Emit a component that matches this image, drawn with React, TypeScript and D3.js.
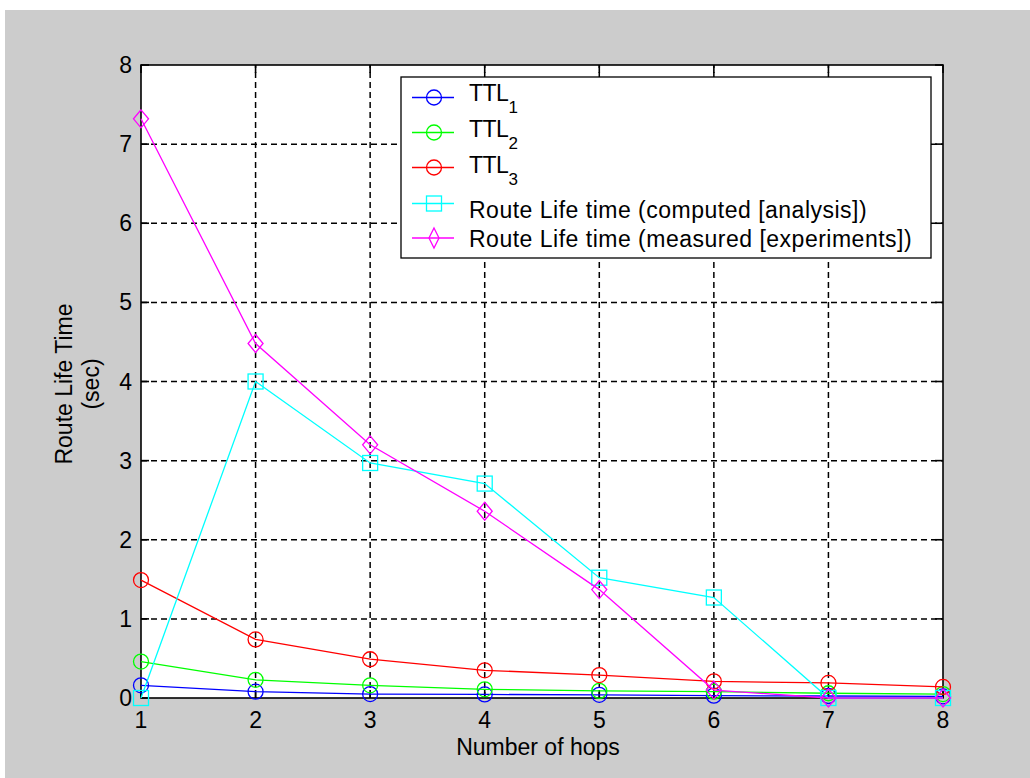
import React from 'react';
import * as d3 from 'd3';

// hop counts on the x axis
const hops = [1, 2, 3, 4, 5, 6, 7, 8];

// series values (seconds)
const ttl1 = [0.16, 0.08, 0.05, 0.045, 0.04, 0.03, 0.025, 0.02];
const ttl2 = [0.46, 0.23, 0.16, 0.11, 0.09, 0.08, 0.06, 0.05];
const ttl3 = [1.49, 0.74, 0.49, 0.35, 0.29, 0.21, 0.19, 0.14];
const computed = [0, 4.0, 2.97, 2.71, 1.52, 1.27, 0, 0];
const measured = [7.32, 4.48, 3.2, 2.36, 1.37, 0.1, 0, 0];

const xTicks = [1, 2, 3, 4, 5, 6, 7, 8];
const yTicks = [0, 1, 2, 3, 4, 5, 6, 7, 8];

const series = [
    {name: 'TTL', sub: '1', values: ttl1, color: '#0000ff', marker: 'circle'},
    {name: 'TTL', sub: '2', values: ttl2, color: '#00ff00', marker: 'circle'},
    {name: 'TTL', sub: '3', values: ttl3, color: '#ff0000', marker: 'circle'},
    {name: 'Route Life time (computed [analysis])', sub: '', values: computed, color: '#00ffff', marker: 'square'},
    {name: 'Route Life time (measured [experiments])', sub: '', values: measured, color: '#ff00ff', marker: 'diamond'},
];

const font = '"Liberation Sans", Arial, sans-serif';

function Marker({type, cx, cy, color, legend}: {type: string; cx: number; cy: number; color: string; legend?: boolean}) {
    if (type === 'circle') {
        return <circle cx={cx} cy={cy} r={7.5} fill="none" stroke={color} strokeWidth={1.3} />;
    }
    if (type === 'square') {
        return <rect x={cx - 7.5} y={cy - 7.5} width={15} height={15} fill="none" stroke={color} strokeWidth={1.3} />;
    }
    const hw = legend ? 5 : 7.5;
    const hh = legend ? 10 : 9;
    return (
        <path
            d={`M${cx},${cy - hh}L${cx + hw},${cy}L${cx},${cy + hh}L${cx - hw},${cy}Z`}
            fill="none"
            stroke={color}
            strokeWidth={1.3}
        />
    );
}

export default function App() {
    const x = d3.scaleLinear().domain([1, 8]).range([141, 943]);
    const y = d3.scaleLinear().domain([0, 8]).range([698, 65]);

    const [x0, x1] = x.range();
    const [y0, y1] = y.range();

    const line = d3.line<number>()
        .x((d, i) => x(hops[i]))
        .y((d) => y(d));

    // legend layout
    const legX = 401, legY = 77, legW = 530, legH = 181;
    const rowY = [97.5, 132.5, 167.5, 203.5, 238];
    const textY = [101, 137, 173, 218, 247];

    return (
        <svg width={1030} height={778} style={{position: 'absolute', left: 0, top: 0}} fontFamily={font}>
            <rect x={0} y={0} width={1030} height={778} fill="#ffffff" />
            <rect x={5} y={10} width={1025} height={768} fill="#cccccc" />
            <rect x={x0} y={y1} width={x1 - x0} height={y0 - y1} fill="#ffffff" />

            {/* grid */}
            <g stroke="#000" strokeWidth={1.5} strokeDasharray="6,4">
                {xTicks.slice(1, -1).map((t) => (
                    <line key={'gx' + t} x1={x(t)} x2={x(t)} y1={y0} y2={y1} />
                ))}
                {yTicks.slice(1, -1).map((t) => (
                    <line key={'gy' + t} x1={x0} x2={x1} y1={y(t)} y2={y(t)} />
                ))}
            </g>

            {/* box and ticks */}
            <g stroke="#000" strokeWidth={1.6}>
                <rect x={x0} y={y1} width={x1 - x0} height={y0 - y1} fill="none" />
                {xTicks.map((t) => (
                    <g key={'tx' + t}>
                        <line x1={x(t)} x2={x(t)} y1={y0} y2={y0 - 8} />
                        <line x1={x(t)} x2={x(t)} y1={y1} y2={y1 + 8} />
                    </g>
                ))}
                {yTicks.map((t) => (
                    <g key={'ty' + t}>
                        <line x1={x0} x2={x0 + 8} y1={y(t)} y2={y(t)} />
                        <line x1={x1} x2={x1 - 8} y1={y(t)} y2={y(t)} />
                    </g>
                ))}
            </g>

            {/* tick labels */}
            <g fontSize={23} fill="#000">
                {xTicks.map((t) => (
                    <text key={'lx' + t} x={x(t)} y={728} textAnchor="middle">{t}</text>
                ))}
                {yTicks.map((t) => (
                    <text key={'ly' + t} x={132} y={y(t) + 8} textAnchor="end">{t}</text>
                ))}
            </g>

            {/* axis labels */}
            <text x={(x0 + x1) / 2 - 4} y={755} fontSize={23} textAnchor="middle">Number of hops</text>
            <g transform="translate(72,384) rotate(-90)">
                <text x={0} y={0} fontSize={23} textAnchor="middle">Route Life Time</text>
            </g>
            <g transform="translate(99,384) rotate(-90)">
                <text x={0} y={0} fontSize={23} textAnchor="middle">(sec)</text>
            </g>

            {/* data */}
            {series.map((s) => (
                <g key={s.name + s.sub}>
                    <path d={line(s.values) || ''} fill="none" stroke={s.color} strokeWidth={1.3} />
                    {s.values.map((v, i) => (
                        <Marker key={i} type={s.marker} cx={x(hops[i])} cy={y(v)} color={s.color} />
                    ))}
                </g>
            ))}

            {/* legend */}
            <rect x={legX} y={legY} width={legW} height={legH} fill="#ffffff" stroke="#000" strokeWidth={1.3} />
            {series.map((s, i) => (
                <g key={'leg' + i}>
                    <line x1={412} x2={454} y1={rowY[i]} y2={rowY[i]} stroke={s.color} strokeWidth={1.3} />
                    <Marker type={s.marker} cx={434} cy={rowY[i]} color={s.color} legend />
                    <text x={469} y={textY[i]} fontSize={23} letterSpacing={s.sub ? -0.5 : 0.5} fill="#000">
                        {s.name}
                        {s.sub && <tspan dy={12} fontSize={17}>{s.sub}</tspan>}
                    </text>
                </g>
            ))}
        </svg>
    );
}
